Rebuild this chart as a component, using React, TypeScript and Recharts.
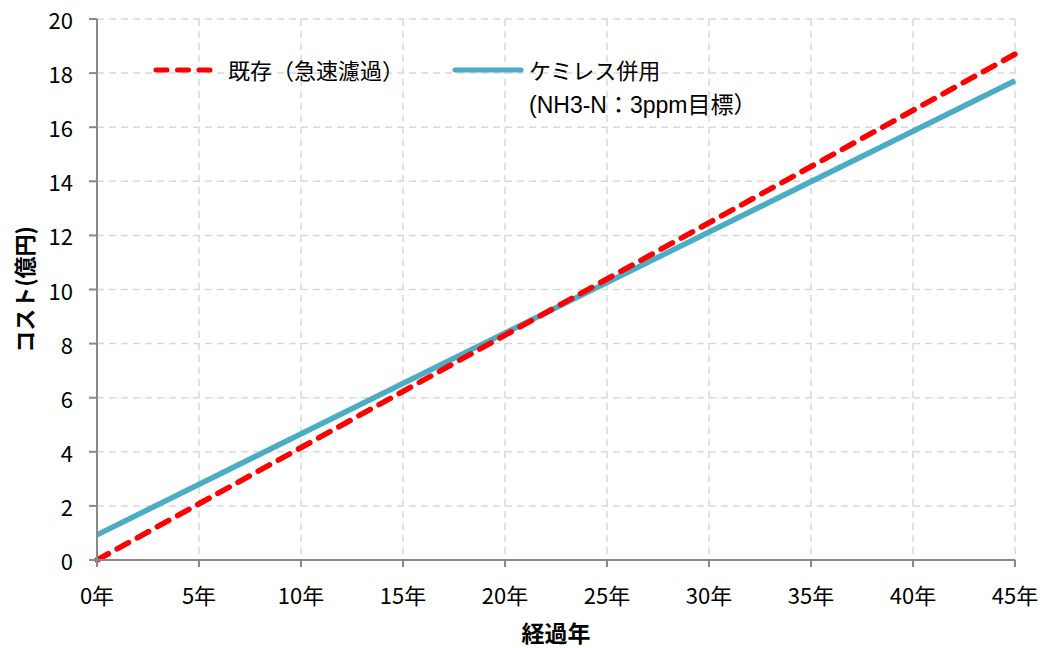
import React from "react";
import { LineChart, Line, XAxis, YAxis, CartesianGrid } from "recharts";

// Elapsed years (x) and cumulative cost in 億円 for each scheme
const years = [0, 45];
const existingCost = [0, 18.7];
const chemilessCost = [0.93, 17.72];

const xTicks = [0, 5, 10, 15, 20, 25, 30, 35, 40, 45];
const yTicks = [0, 2, 4, 6, 8, 10, 12, 14, 16, 18, 20];

const seriesNames = ["既存（急速濾過）", "ケミレス併用"];
const seriesNote = "(NH3-N：3ppm目標）";

const RED = "#ff0000";
const BLUE = "#4bacc6";
const AXIS = "#898989";
const CJK = "'Noto Sans CJK JP', sans-serif";
const LEGEND_FONT = "'Liberation Sans', 'Noto Sans CJK JP', sans-serif";

const data = years.map((y, i) => ({
  year: y,
  existing: existingCost[i],
  chemiless: chemilessCost[i],
}));

const XTick = (props: any) => {
  const { x, payload } = props;
  return (
    <text x={x} y={594} textAnchor="middle" dominantBaseline="central" fontFamily={CJK} fontSize={22} fill="#000">
      {`${payload.value}年`}
    </text>
  );
};

const YTick = (props: any) => {
  const { y, payload } = props;
  return (
    <text x={73} y={y} textAnchor="end" dominantBaseline="central" fontFamily={CJK} fontSize={22} fill="#000">
      {payload.value}
    </text>
  );
};

const XTitle = (props: any) => {
  const { viewBox } = props;
  return (
    <text x={viewBox.x + viewBox.width / 2} y={632} textAnchor="middle" dominantBaseline="central" fontFamily={CJK} fontWeight="bold" fontSize={23} fill="#000">
      経過年
    </text>
  );
};

const YTitle = (props: any) => {
  const { viewBox } = props;
  const cy = viewBox.y + viewBox.height / 2;
  return (
    <text x={23} y={cy} transform={`rotate(-90 23 ${cy})`} textAnchor="middle" dominantBaseline="central" fontFamily={CJK} fontWeight="bold" fontSize={22} fill="#000">
      コスト(億円)
    </text>
  );
};

// Legend drawn as an overlay so it does not shrink the plot area
const LegendOverlay = () => (
  <svg width={1044} height={140} style={{ position: "absolute", left: 0, top: 0, pointerEvents: "none" }}>
    <line x1={156} y1={70} x2={210} y2={70} stroke={RED} strokeWidth={5} strokeDasharray="11 10.5" strokeLinecap="round" />
    <text x={228} y={69} dominantBaseline="central" fontFamily={CJK} fontSize={22} fill="#000">{seriesNames[0]}</text>
    <line x1={455} y1={70} x2={521} y2={70} stroke={BLUE} strokeWidth={5} strokeLinecap="round" />
    <text x={529} y={69} dominantBaseline="central" fontFamily={CJK} fontSize={22} fill="#000">{seriesNames[1]}</text>
    <text x={529} y={105} dominantBaseline="central" fontFamily={LEGEND_FONT} fontSize={23} fill="#000">{seriesNote}</text>
  </svg>
);

export default function App() {
  return (
    <div style={{ position: "absolute", left: 0, top: 0, width: 1044, height: 648, background: "#fff" }}>
      <LineChart width={1044} height={648} data={data} margin={{ top: 19, right: 29, bottom: 0, left: 0 }}>
        <CartesianGrid stroke="#d9d9d9" strokeWidth={1.5} strokeDasharray="7 5" horizontalValues={yTicks} verticalValues={xTicks} />
        <XAxis
          dataKey="year"
          type="number"
          domain={[0, 45]}
          ticks={xTicks}
          height={88}
          stroke={AXIS}
          strokeWidth={2}
          tickSize={7}
          tick={<XTick />}
          interval={0}
          label={<XTitle />}
        />
        <YAxis
          type="number"
          domain={[0, 20]}
          ticks={yTicks}
          width={97}
          stroke={AXIS}
          strokeWidth={2}
          tickSize={8}
          tick={<YTick />}
          interval={0}
          label={<YTitle />}
        />
        <Line
          dataKey="chemiless"
          name={seriesNames[1]}
          stroke={BLUE}
          strokeWidth={5.5}
          dot={false}
          isAnimationActive={false}
        />
        <Line
          dataKey="existing"
          name={seriesNames[0]}
          stroke={RED}
          strokeWidth={5.5}
          strokeDasharray="13 10"
          strokeLinecap="round"
          dot={false}
          isAnimationActive={false}
        />
      </LineChart>
      <LegendOverlay />
    </div>
  );
}
